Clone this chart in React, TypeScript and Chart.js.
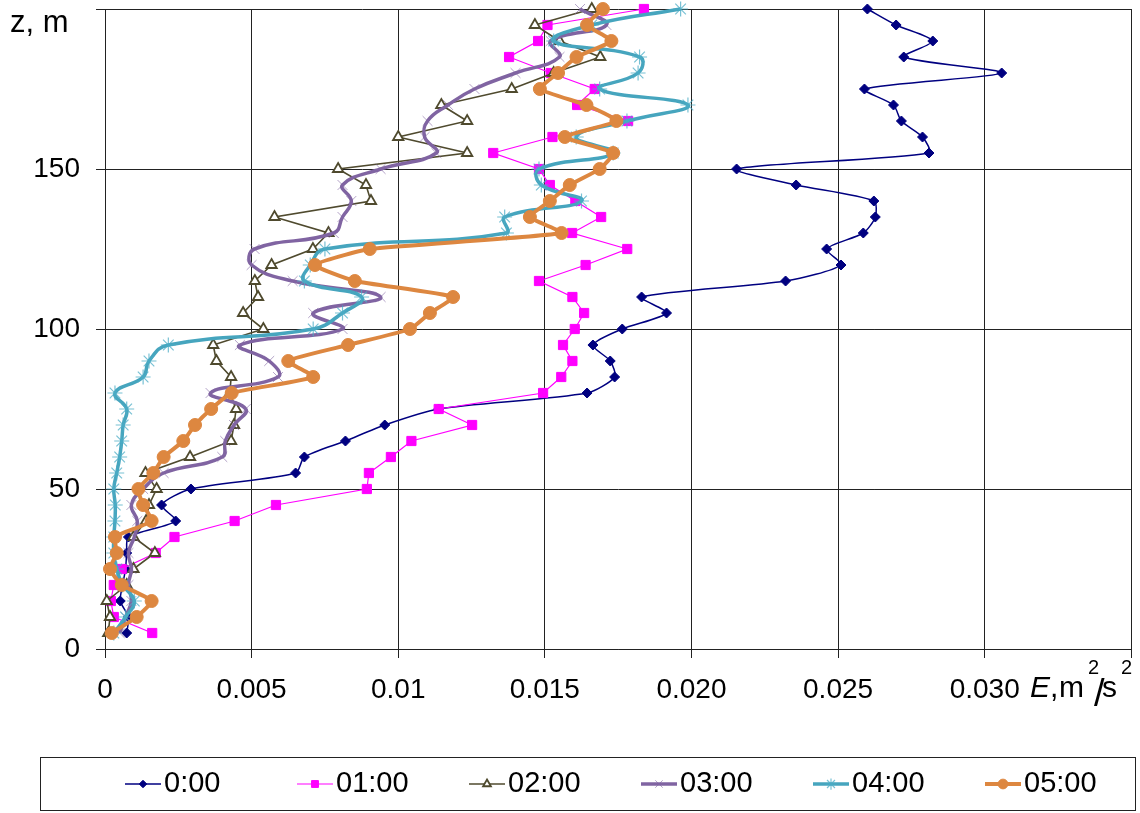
import React, { useEffect, useRef } from 'react';
import { Chart, registerables } from 'chart.js';
import { drawPoint } from 'chart.js/helpers';

Chart.register(...registerables);

// Heights (m), bottom to top
const heights = [5, 10, 15, 20, 25, 30, 35, 40, 45, 50, 55, 60, 65, 70, 75, 80, 85, 90, 95, 100,
  105, 110, 115, 120, 125, 130, 135, 140, 145, 150, 155, 160, 165, 170, 175, 180, 185, 190, 195, 200];

// E (m2/s2) for each hour, matching heights
const e0000 = [0.00074, 0.0008, 0.00052, 0.0006, 0.0007, 0.00074, 0.0008, 0.00241, 0.00193, 0.00293,
  0.0065, 0.0068, 0.0082, 0.00954, 0.01138, 0.01644, 0.01738, 0.01723, 0.01664, 0.01764,
  0.01915, 0.0183, 0.02321, 0.0251, 0.02461, 0.02586, 0.02627, 0.02622, 0.02357, 0.02154,
  0.0281, 0.02788, 0.02716, 0.02689, 0.0259, 0.03058, 0.02724, 0.02823, 0.02698, 0.026];
const e0100 = [0.00161, 0.0003, 0.0002, 0.0003, 0.00057, 0.00173, 0.00237, 0.00442, 0.00583, 0.00893,
  0.009, 0.00975, 0.01045, 0.01252, 0.01138, 0.01494, 0.01556, 0.01594, 0.01562, 0.01602,
  0.01634, 0.01594, 0.0148, 0.01639, 0.01781, 0.01593, 0.01692, 0.01604, 0.01517, 0.0148,
  0.01324, 0.01526, 0.01784, 0.0161, 0.0167, 0.0152, 0.01378, 0.01477, 0.01509, 0.01838];
const e0200 = [0.00011, 0.00017, 0.00006, 0.00074, 0.00097, 0.0017, 0.00097, 0.0014, 0.0015, 0.00176,
  0.00138, 0.0029, 0.0043, 0.0044, 0.00447, 0.00426, 0.0043, 0.0038, 0.00369, 0.0054,
  0.00471, 0.00522, 0.00511, 0.00568, 0.00709, 0.00762, 0.00578, 0.00907, 0.0089, 0.00795,
  0.01235, 0.01, 0.01235, 0.01147, 0.01387, 0.0153, 0.01689, 0.0155, 0.01466, 0.0166];
const e0300 = [0.0005, 0.0007, 0.0009, 0.0008, 0.0009, 0.0008, 0.001, 0.0011, 0.0009, 0.0013,
  0.002, 0.004, 0.0041, 0.0044, 0.0048, 0.0036, 0.0059, 0.0056, 0.0046, 0.0081,
  0.0071, 0.0094, 0.0064, 0.005, 0.0051, 0.0078, 0.0081, 0.0084, 0.0081, 0.0094,
  0.0113, 0.0109, 0.011, 0.0117, 0.0126, 0.014, 0.0155, 0.0152, 0.0171, 0.0162];
const e0400 = [0.0003, 0.0007, 0.001, 0.0006, 0.0004, 0.0003, 0.0003, 0.00034, 0.00035, 0.0003,
  0.0004, 0.0005, 0.00057, 0.00062, 0.00074, 0.00034, 0.0013, 0.0015, 0.00216, 0.0071,
  0.0081, 0.00875, 0.0068, 0.007, 0.0075, 0.01369, 0.01363, 0.01625, 0.01488, 0.0148,
  0.01733, 0.01607, 0.0178, 0.01988, 0.01687, 0.01818, 0.01823, 0.0153, 0.0166, 0.01963];
const e0500 = [0.00023, 0.00108, 0.00159, 0.00057, 0.00017, 0.0004, 0.00034, 0.00159, 0.0013, 0.00114,
  0.00165, 0.002, 0.00267, 0.00307, 0.00362, 0.00432, 0.0071, 0.00625, 0.00829, 0.0104,
  0.01108, 0.01187, 0.00852, 0.00716, 0.00903, 0.01557, 0.01449, 0.01517, 0.01585, 0.01687,
  0.01733, 0.01568, 0.01744, 0.01642, 0.01483, 0.01545, 0.01608, 0.01727, 0.01644, 0.01698];

const seriesNames = ['0:00', '01:00', '02:00', '03:00', '04:00', '05:00'];
const seriesValues = [e0000, e0100, e0200, e0300, e0400, e0500];

const xTickValues = [0, 0.005, 0.01, 0.015, 0.02, 0.025, 0.03, 0.035];
const xTickLabels = ['0', '0.005', '0.01', '0.015', '0.020', '0.025', '0.030', ''];
const yTickValues = [0, 50, 100, 150, 200];
const yTickLabels = ['0', '50', '100', '150', ''];

const FONT = '"Liberation Sans", Arial, sans-serif';

const styles = [
  { color: '#000080', width: 1.5, tension: 0.25, pointStyle: 'rectRot', radius: 5, bg: '#000080', pb: '#000080', pbw: 1 },
  { color: '#FF00FF', width: 1.2, tension: 0, pointStyle: 'rect', radius: 6.5, bg: '#FF00FF', pb: '#FF00FF', pbw: 1 },
  { color: '#4F4A2E', width: 1.6, tension: 0, pointStyle: 'triangle', radius: 6, bg: '#ffffff', pb: '#4F4A2E', pbw: 1.8 },
  { color: '#8064A2', width: 3.5, tension: 0.45, pointStyle: 'crossRot', radius: 7, bg: 'rgba(0,0,0,0)', pb: 'rgba(128,100,162,0.6)', pbw: 1 },
  { color: '#46A5BE', width: 3.5, tension: 0.45, pointStyle: 'star', radius: 7.5, bg: 'rgba(0,0,0,0)', pb: 'rgba(75,172,198,0.75)', pbw: 1.2 },
  { color: '#DD8740', width: 4, tension: 0.15, pointStyle: 'circle', radius: 6.5, bg: '#DD8740', pb: '#DD8740', pbw: 1 },
];

const overlayPlugin = {
  id: 'overlay',
  afterDraw(chart: any) {
    const ctx = chart.ctx;
    ctx.save();
    // y-axis title
    ctx.fillStyle = '#000';
    ctx.textAlign = 'left';
    ctx.textBaseline = 'alphabetic';
    ctx.font = `31px ${FONT}`;
    ctx.fillText('z, m', 10, 32);
    // x-axis title: E, m2/s2
    const by = 697;
    ctx.font = `italic 30px ${FONT}`;
    ctx.fillText('E', 1030, by);
    ctx.font = `30px ${FONT}`;
    ctx.fillText(',', 1050, by);
    ctx.fillText('m', 1059, by);
    ctx.font = `20px ${FONT}`;
    ctx.fillText('2', 1088, by - 23);
    ctx.font = `38px ${FONT}`;
    ctx.fillText('/', 1094, by + 9);
    ctx.font = `30px ${FONT}`;
    ctx.fillText('s', 1102, by);
    ctx.font = `20px ${FONT}`;
    ctx.fillText('2', 1121, by - 23);

    // legend
    ctx.strokeStyle = '#222';
    ctx.lineWidth = 1;
    ctx.strokeRect(40.5, 757.5, 1095, 53);
    const ly = 784;
    chart.data.datasets.forEach((ds: any, i: number) => {
      const x0 = 125 + i * 172;
      ctx.strokeStyle = ds.borderColor;
      ctx.lineWidth = ds.borderWidth;
      ctx.beginPath();
      ctx.moveTo(x0, ly);
      ctx.lineTo(x0 + 36, ly);
      ctx.stroke();
      ctx.fillStyle = ds.pointBackgroundColor;
      ctx.strokeStyle = ds.pointBorderColor;
      ctx.lineWidth = ds.pointBorderWidth;
      drawPoint(ctx, { pointStyle: ds.pointStyle, radius: ds.pointRadius * 0.75, borderWidth: ds.pointBorderWidth, rotation: 0 } as any, x0 + 18, ly);
      ctx.fillStyle = '#000';
      ctx.font = `29px ${FONT}`;
      ctx.textBaseline = 'middle';
      ctx.textAlign = 'left';
      ctx.fillText(ds.label, x0 + 39, ly);
      ctx.textBaseline = 'alphabetic';
    });
    ctx.restore();
  },
};

export default function App() {
  const ref = useRef<HTMLCanvasElement>(null);
  useEffect(() => {
    document.body.style.margin = '0';
    const canvas = ref.current;
    if (!canvas) return;
    const datasets = seriesNames.map((name, i) => {
      const s = styles[i];
      return {
        label: name,
        data: heights.map((z, k) => ({ x: seriesValues[i][k], y: z })),
        showLine: true,
        borderColor: s.color,
        backgroundColor: s.bg,
        borderWidth: s.width,
        tension: s.tension,
        pointStyle: s.pointStyle,
        pointRadius: s.radius,
        pointBackgroundColor: s.bg,
        pointBorderColor: s.pb,
        pointBorderWidth: s.pbw,
        clip: false,
        order: seriesNames.length - 1 - i,
      };
    });
    const chart = new Chart(canvas, {
      type: 'scatter',
      data: { datasets },
      options: {
        animation: false,
        responsive: false,
        maintainAspectRatio: false,
        layout: { padding: { top: 9, right: 6, left: 0, bottom: 0 } },
        plugins: { legend: { display: false }, tooltip: { enabled: false } },
        scales: {
          x: {
            type: 'linear',
            min: 0,
            max: 0.035,
            afterBuildTicks: (axis: any) => { axis.ticks = xTickValues.map((v) => ({ value: v })); },
            afterFit: (s: any) => { s.height = 164; s.paddingLeft = 0; s.paddingRight = 0; },
            ticks: {
              autoSkip: false,
              maxRotation: 0,
              padding: 15,
              color: '#000',
              font: { family: FONT, size: 28 },
              callback: (_v: any, i: number) => xTickLabels[i] ?? '',
            },
            grid: { color: '#222', lineWidth: 1, tickLength: 9 },
            border: { color: '#222', width: 1 },
          },
          y: {
            type: 'linear',
            min: 0,
            max: 200,
            afterBuildTicks: (axis: any) => { axis.ticks = yTickValues.map((v) => ({ value: v })); },
            afterFit: (s: any) => { s.width = 105; s.paddingTop = 0; s.paddingBottom = 0; },
            ticks: {
              autoSkip: false,
              padding: 16,
              color: '#000',
              font: { family: FONT, size: 28 },
              callback: (_v: any, i: number) => yTickLabels[i] ?? '',
            },
            grid: { color: '#222', lineWidth: 1, tickLength: 9 },
            border: { color: '#222', width: 1 },
          },
        },
      },
      plugins: [overlayPlugin],
    } as any);
    return () => chart.destroy();
  }, []);
  return (
    <canvas ref={ref} width={1140} height={813} style={{ display: 'block', width: 1140, height: 813 }} />
  );
}
